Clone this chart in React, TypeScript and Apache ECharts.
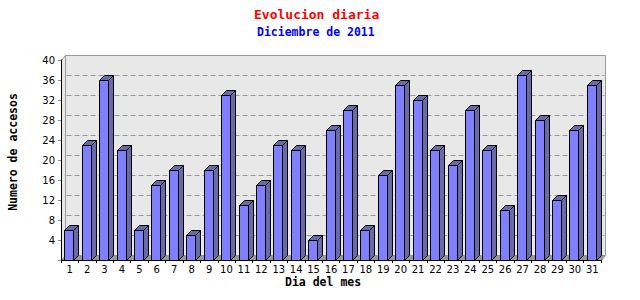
import React, { useEffect, useRef } from "react";
import * as echarts from "echarts";

const days = ["1","2","3","4","5","6","7","8","9","10","11","12","13","14","15","16","17","18","19","20","21","22","23","24","25","26","27","28","29","30","31"];
const accesses = [6,23,36,22,6,15,18,5,18,33,11,15,23,22,4,26,30,6,17,35,32,22,19,30,22,10,37,28,12,26,35];
const yTicks = [4,8,12,16,20,24,28,32,36];
const yMax = 40;
const yInterval = 4;

const titleText = "Evolucion diaria";
const subtitleText = "Diciembre de 2011";
const xName = "Dia del mes";
const yName = "Numero de accesos";

export default function App() {
  const ref = useRef<HTMLDivElement>(null);
  useEffect(() => {
    if (!ref.current) return;
    const chart = echarts.init(ref.current, null, { renderer: "svg" });
    const DX = 4;
    const DY = 5;
    const BDX = 5;
    const BDY = 5;
    const mono = "'DejaVu Sans Mono', monospace";
    const sans = "'DejaVu Sans', sans-serif";
    const r = (v: number) => Math.round(v) + 0.5;

    const option: any = {
      animation: false,
      grid: { left: 61, right: 39, top: 60, bottom: 40 },
      title: [
        {
          text: titleText,
          left: 249,
          top: 3,
          textStyle: { fontFamily: mono, fontWeight: "bold", fontSize: 13, color: "#ff0000" },
        },
        {
          text: subtitleText,
          left: 252,
          top: 21,
          textStyle: { fontFamily: mono, fontWeight: "bold", fontSize: 11.5, color: "#0000ff" },
        },
      ],
      xAxis: {
        type: "category",
        data: days,
        z: 5,
        axisLine: { lineStyle: { color: "#000", width: 1 } },
        axisTick: { show: true, length: 3, alignWithLabel: false, lineStyle: { color: "#000" } },
        axisLabel: { fontFamily: sans, fontSize: 10, color: "#000", margin: 4, interval: 0 },
        splitLine: { show: false },
      },
      yAxis: {
        type: "value",
        min: 0,
        max: yMax,
        interval: yInterval,
        z: 5,
        axisLine: { show: true, lineStyle: { color: "#000", width: 1 } },
        axisTick: { show: true, length: 3, lineStyle: { color: "#888" } },
        axisLabel: {
          fontFamily: sans,
          fontSize: 10,
          color: "#000",
          margin: 6,
          formatter: (v: number) => (v === 0 ? "" : String(v)),
        },
        splitLine: { show: false },
      },
      graphic: [
        {
          type: "text",
          left: 285,
          top: 276,
          style: { text: xName, fontFamily: mono, fontWeight: "bold", fontSize: 11.5, fill: "#000" },
        },
        {
          type: "text",
          x: 13,
          y: 152,
          rotation: Math.PI / 2,
          style: {
            text: yName,
            fontFamily: mono,
            fontWeight: "bold",
            fontSize: 11.5,
            fill: "#000",
            align: "center",
            verticalAlign: "middle",
          },
        },
      ],
      series: [
        {
          type: "custom",
          z: 1,
          silent: true,
          data: [[0, 0]],
          renderItem: (params: any, api: any) => {
            const cs = params.coordSys;
            const x0 = cs.x;
            const x1 = cs.x + cs.width;
            const top = cs.y;
            const base = api.coord([0, 0])[1];
            const children: any[] = [];
            children.push({
              type: "polygon",
              shape: { points: [[r(x0), r(base)], [r(x0 + DX), r(base - DY)], [r(x0 + DX), r(top - DY)], [r(x0), r(top)]] },
              style: { fill: "#e8e8e8", stroke: "#999", lineWidth: 1 },
            });
            children.push({
              type: "rect",
              shape: { x: r(x0 + DX), y: r(top - DY), width: Math.round(x1 - x0), height: Math.round(base - top) },
              style: { fill: "#e8e8e8", stroke: "#999", lineWidth: 1 },
            });
            children.push({
              type: "polygon",
              shape: { points: [[r(x0), r(base)], [r(x0 + DX), r(base - DY)], [r(x1 + DX), r(base - DY)], [r(x1), r(base)]] },
              style: { fill: "#999999", stroke: "#999", lineWidth: 1 },
            });
            yTicks.forEach((t) => {
              const y = api.coord([0, t])[1];
              children.push({
                type: "line",
                shape: { x1: r(x0 + DX + 1), y1: r(y - DY), x2: r(x1 + DX - 1), y2: r(y - DY) },
                style: { stroke: "#999", lineWidth: 1, lineDash: [5, 3] },
              });
            });
            return { type: "group", children };
          },
        },
        {
          type: "custom",
          z: 3,
          data: accesses.map((v, i) => [i, v]),
          renderItem: (params: any, api: any) => {
            const idx = api.value(0);
            const v = api.value(1);
            const p = api.coord([idx, v]);
            const b = api.coord([idx, 0]);
            const bw = api.size([1, 0])[0];
            const fw = Math.round(bw * 0.52);
            const xl = Math.round(p[0] - fw * 0.6) + 0.5;
            const xr = xl + fw;
            const yt = Math.round(p[1]) + 0.5;
            const yb = Math.round(b[1]) + 0.5;
            const side = "#6a6aa8";
            return {
              type: "group",
              children: [
                {
                  type: "polygon",
                  shape: { points: [[xr, yt], [xr + BDX, yt - BDY], [xr + BDX, yb - BDY], [xr, yb]] },
                  style: { fill: side, stroke: "#000", lineWidth: 1 },
                },
                {
                  type: "polygon",
                  shape: { points: [[xl, yt], [xl + BDX, yt - BDY], [xr + BDX, yt - BDY], [xr, yt]] },
                  style: { fill: side, stroke: "#000", lineWidth: 1 },
                },
                {
                  type: "rect",
                  shape: { x: xl, y: yt, width: fw, height: yb - yt },
                  style: { fill: "#8080ff", stroke: "#000", lineWidth: 1 },
                },
              ],
            };
          },
        },
      ],
    };
    chart.setOption(option);
    return () => chart.dispose();
  }, []);
  return (
    <div
      ref={ref}
      style={{ position: "fixed", left: 0, top: 0, width: 640, height: 300, background: "#fff" }}
    />
  );
}
